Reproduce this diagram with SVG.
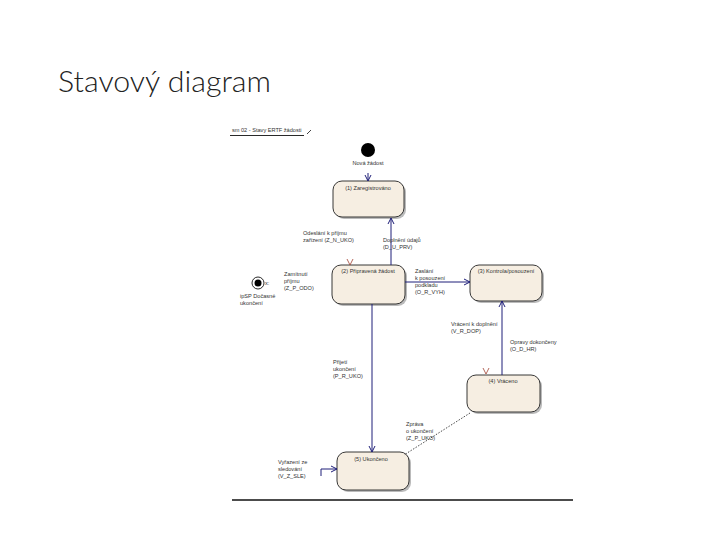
<svg xmlns="http://www.w3.org/2000/svg" width="720" height="540" viewBox="0 0 720 540">
<defs>
<style>
.t{font-family:"Liberation Sans",Arial,sans-serif;font-size:5.6px;fill:#333}
.st rect.s{fill:#f6eee2;stroke:#222;stroke-width:0.9}
.st rect.sh{fill:#bbb}
.c{fill:none;stroke:#1e1e78;stroke-width:1}
.chk{fill:none;stroke:#a04030;stroke-width:0.8}
</style>
<marker id="a" markerWidth="8" markerHeight="8" refX="7" refY="4" orient="auto" markerUnits="userSpaceOnUse">
<path d="M1,1 L7,4 L1,7" fill="none" stroke="#1e1e78" stroke-width="1"/>
</marker>
</defs>
<rect width="720" height="540" fill="#fff"/>
<text x="58" y="92" font-family="Lato,'Open Sans',sans-serif" font-weight="300" font-size="29" fill="#222" textLength="213" lengthAdjust="spacingAndGlyphs">Stavový diagram</text>

<g id="frame">
<text class="t" x="232" y="132">sm 02 - Stavy ERTF žádosti</text>
<line x1="230" y1="135.5" x2="304" y2="135.5" stroke="#111" stroke-width="0.9"/>
<line x1="307" y1="134" x2="311" y2="130" stroke="#111" stroke-width="0.8"/>
<line x1="232" y1="500" x2="573" y2="500" stroke="#111" stroke-width="1.4"/>
</g>

<g id="initial">
<circle cx="368" cy="150" r="7" fill="#000"/>
<text class="t" x="368" y="165" text-anchor="middle">Nová žádost</text>
</g>

<g id="final">
<circle cx="258" cy="283" r="6" fill="#fff" stroke="#111" stroke-width="0.9"/>
<circle cx="258" cy="283" r="3.5" fill="#000"/>
<text class="t" x="265" y="285">x:</text>
<text class="t" x="240" y="298">ipSP Dočasné</text>
<text class="t" x="240" y="305">ukončení</text>
</g>

<g id="s1" class="st">
<rect class="sh" x="335" y="183" width="71" height="36" rx="9"/>
<rect class="s" x="333" y="181" width="71" height="36" rx="9"/>
<text class="t" x="368" y="190" text-anchor="middle">(1) Zaregistrováno</text>
</g>
<g id="s2" class="st">
<rect class="sh" x="334" y="267" width="73" height="39" rx="9"/>
<rect class="s" x="332" y="265" width="73" height="39" rx="9"/>
<text class="t" x="368" y="273" text-anchor="middle">(2) Připravená žádost</text>
<path class="chk" d="M347,259 L350,265 L353,259"/>
</g>
<g id="s3" class="st">
<rect class="sh" x="472" y="267" width="72" height="36" rx="9"/>
<rect class="s" x="470" y="265" width="72" height="36" rx="9"/>
<text class="t" x="506" y="273" text-anchor="middle">(3) Kontrola/posouzení</text>
</g>
<g id="s4" class="st">
<rect class="sh" x="469" y="377" width="73" height="37" rx="9"/>
<rect class="s" x="467" y="375" width="73" height="37" rx="9"/>
<text class="t" x="503" y="383" text-anchor="middle">(4) Vráceno</text>
<path class="chk" d="M483,368 L486,374 L489,368"/>
</g>
<g id="s5" class="st">
<rect class="sh" x="339" y="454" width="72" height="38" rx="9"/>
<rect class="s" x="337" y="452" width="72" height="38" rx="9"/>
<text class="t" x="371" y="461" text-anchor="middle">(5) Ukončeno</text>
</g>

<g id="connectors">
<path class="c" d="M368,173 L368,181" marker-end="url(#a)"/>
<path class="c" d="M391,265 L391,218" marker-end="url(#a)"/>
<path class="c" d="M405,282 L470,282" marker-end="url(#a)"/>
<path class="c" d="M372,304 L372,452" marker-end="url(#a)"/>
<path class="c" d="M502,375 L502,301" marker-end="url(#a)"/>
<path d="M470,413 L404,455" fill="none" stroke="#333" stroke-width="0.9" stroke-dasharray="1.5,1.5"/>
<path class="c" d="M321,476 L321,469 L337,469" marker-end="url(#a)"/>
</g>

<g id="labels">
<text class="t" x="303" y="235">Odeslání k příjmu</text>
<text class="t" x="303" y="242">zařízení (Z_N_UKO)</text>
<text class="t" x="383" y="242">Doplnění údajů</text>
<text class="t" x="383" y="249">(D_U_PRV)</text>
<text class="t" x="284" y="276">Zamítnutí</text>
<text class="t" x="284" y="283">příjmu</text>
<text class="t" x="284" y="290">(Z_P_ODO)</text>
<text class="t" x="415" y="273">Zaslání</text>
<text class="t" x="415" y="280">k posouzení</text>
<text class="t" x="415" y="287">podkladu</text>
<text class="t" x="415" y="294">(O_R_VYH)</text>
<text class="t" x="451" y="326">Vrácení k doplnění</text>
<text class="t" x="451" y="333">(V_R_DOP)</text>
<text class="t" x="510" y="344">Opravy dokončeny</text>
<text class="t" x="510" y="351">(O_D_HR)</text>
<text class="t" x="333" y="364">Přijetí</text>
<text class="t" x="333" y="371">ukončení</text>
<text class="t" x="333" y="378">(P_R_UKO)</text>
<text class="t" x="406" y="426">Zpráva</text>
<text class="t" x="406" y="433">o ukončení</text>
<text class="t" x="406" y="440">(Z_P_UKO)</text>
<text class="t" x="278" y="464">Vyřazení ze</text>
<text class="t" x="278" y="471">sledování</text>
<text class="t" x="278" y="478">(V_Z_SLE)</text>
</g>
</svg>
